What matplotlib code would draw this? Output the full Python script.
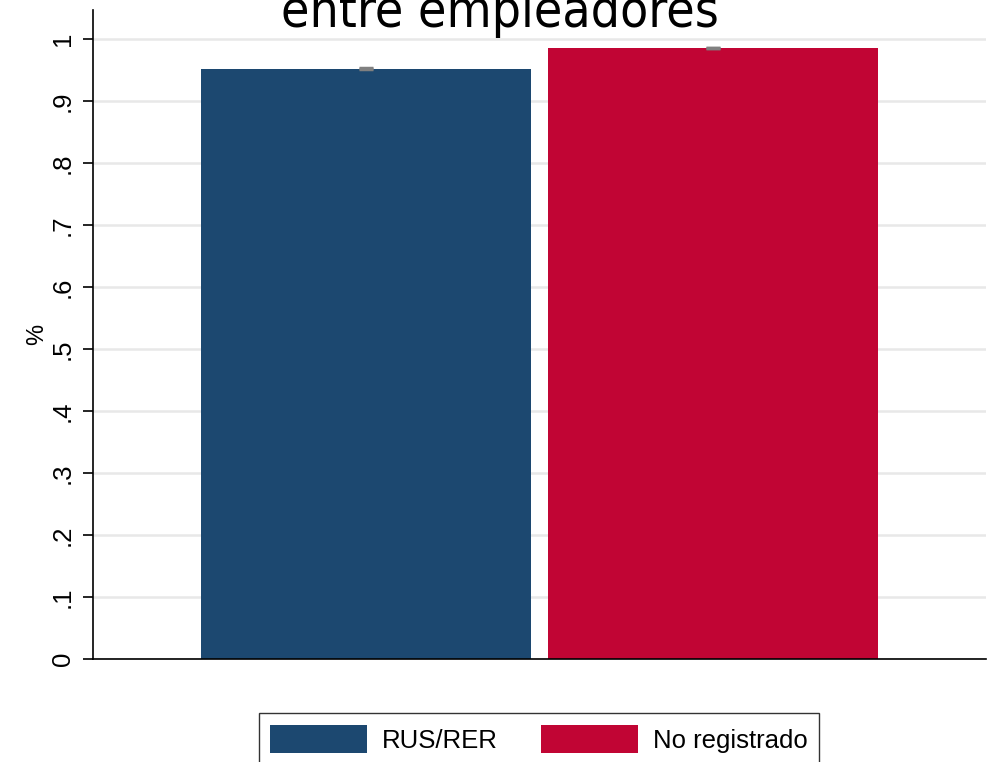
import numpy as np
import matplotlib
matplotlib.use("Agg")
import matplotlib.pyplot as plt

# data
groups = ['RUS/RER', 'No registrado']
values = [0.952, 0.9855]
errors = [0.0008, 0.0006]
colors = ['#1c4870', '#c10534']
yticks = [0, .1, .2, .3, .4, .5, .6, .7, .8, .9, 1]
yticklabels = ['0', '.1', '.2', '.3', '.4', '.5', '.6', '.7', '.8', '.9', '1']

plt.rcParams['font.family'] = ['Liberation Sans', 'DejaVu Sans']

fig = plt.figure(figsize=(9.94, 7.62), dpi=100)
ax = fig.add_axes([93/994, 1-659/762, 893/994, 649/762])

x = np.arange(len(groups))
bars = ax.bar(x, values, width=0.951, color=colors, label=groups, zorder=2)
ax.errorbar(x, values, yerr=errors, fmt='none', ecolor='#808080',
            elinewidth=1.5, capsize=4.7, capthick=2.5, zorder=3)

ax.set_xlim(-0.787, 1.787)
ax.set_ylim(0, 1.047)
ax.set_yticks(yticks)
ax.set_yticklabels(yticklabels, rotation=90, va='center', fontsize=18.5)
ax.set_xticks([])
ax.grid(axis='y', color='#e8e8e8', linewidth=1.8, zorder=0)
ax.set_axisbelow(True)
for s in ['top', 'right']:
    ax.spines[s].set_visible(False)
ax.spines['left'].set_linewidth(1.2)
ax.spines['bottom'].set_linewidth(1.2)
ax.tick_params(axis='y', length=7, width=1.2, pad=6)
ax.set_ylabel('%', fontsize=17, labelpad=2)

# title is partly cut off at the top, as in the reference
fig.text(500/994, 1-27/762, 'entre empleadores', ha='center', va='baseline',
         fontsize=37, family='DejaVu Sans', fontstretch='condensed')

leg = fig.legend(handles=bars.patches, labels=groups, loc='upper center',
                 bbox_to_anchor=(539/994, 1-713/762), ncol=2, fontsize=18.5,
                 frameon=True, fancybox=False, edgecolor='black',
                 handlelength=3.78, handleheight=1.35, columnspacing=1.67,
                 borderpad=0.45, handletextpad=0.58, borderaxespad=0)
leg.get_frame().set_linewidth(1.0)

fig.savefig('out.png', dpi=100)
